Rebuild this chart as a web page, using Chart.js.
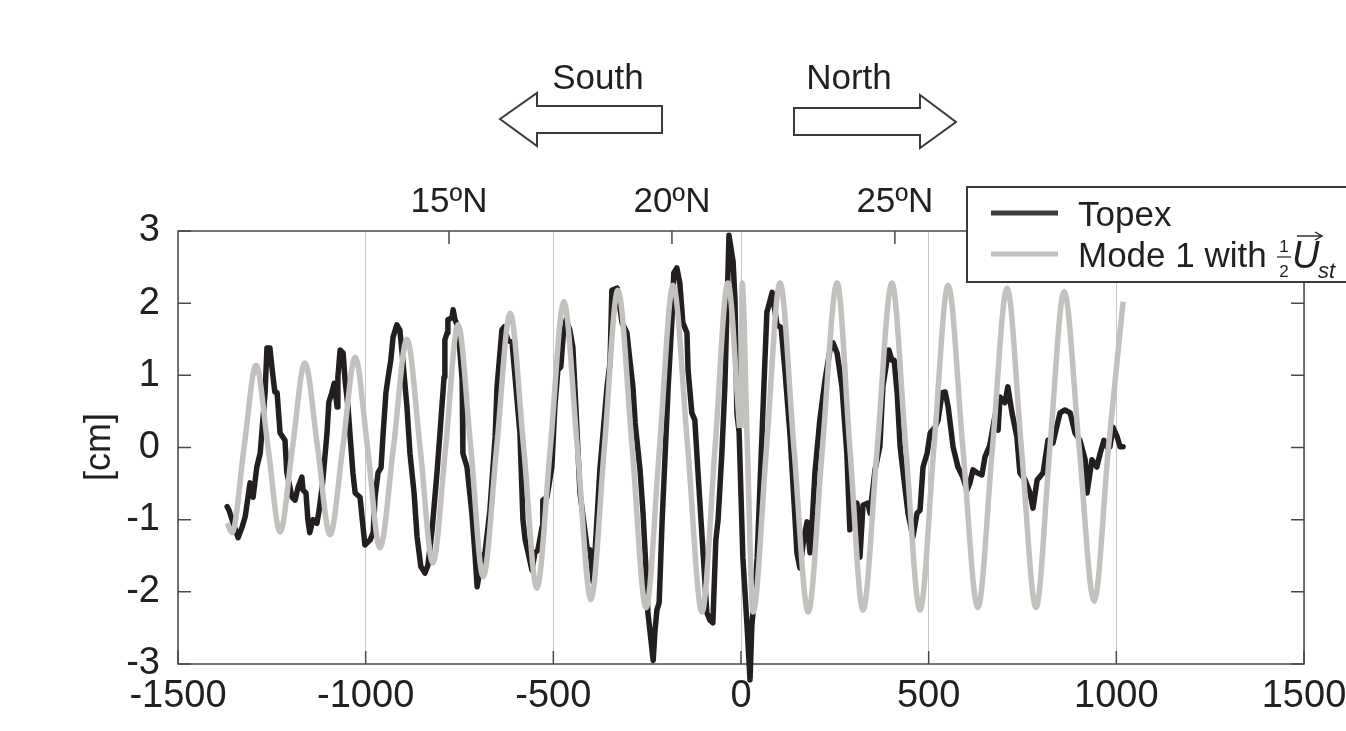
<!DOCTYPE html>
<html>
<head>
<meta charset="utf-8">
<script src="https://cdn.jsdelivr.net/npm/chart.js@4.4.1/dist/chart.umd.min.js"></script>
<style>
  html, body { margin: 0; padding: 0; background: #fff; }
</style>
</head>
<body>
<canvas id="chart" width="1346" height="731"></canvas>
<script>
// distance along track [km] and sea surface height [cm]
const topexDist = [-1369,-1364,-1356,-1340,-1329,-1321,-1308,-1300,-1290,-1281,-1268,-1263,-1255,-1250,-1242,-1236,-1228,-1215,-1210,-1196,-1188,-1180,-1170,-1167,-1159,-1154,-1149,-1140,-1130,-1124,-1116,-1111,-1103,-1098,-1090,-1084,-1076,-1074,-1068,-1060,-1055,-1047,-1042,-1034,-1028,-1015,-1007,-1002,-988,-980,-975,-967,-959,-954,-946,-940,-933,-927,-917,-909,-901,-890,-882,-871,-863,-853,-842,-834,-823,-810,-802,-797,-791,-789,-783,-781,-770,-767,-762,-754,-743,-741,-730,-717,-709,-703,-690,-682,-669,-655,-650,-637,-631,-621,-610,-602,-589,-581,-575,-567,-557,-549,-541,-530,-528,-517,-504,-496,-488,-480,-474,-466,-456,-448,-440,-429,-410,-402,-394,-389,-376,-357,-349,-344,-330,-317,-304,-296,-288,-282,-269,-261,-253,-248,-242,-234,-229,-224,-218,-210,-202,-194,-184,-179,-171,-163,-155,-144,-141,-131,-123,-115,-101,-91,-83,-75,-67,-61,-51,-43,-37,-32,-21,-16,-11,-5,5,16,24,29,37,43,64,69,72,83,96,107,117,131,144,149,157,168,176,184,189,197,210,224,237,245,256,269,282,290,309,317,325,338,344,357,370,378,389,394,402,408,416,424,432,445,458,469,477,485,496,504,517,525,536,544,552,565,578,591,602,610,618,629,642,650,663,677,685,690,703,711,722,735,743,757,770,778,789,805,818,831,850,863,877,890,903,917,922,935,948,957,967,975,983,991,1002,1010,1018];
const topexCm = [-0.82,-0.87,-1.00,-1.25,-1.10,-0.96,-0.49,-0.69,-0.27,-0.08,0.76,1.38,1.38,1.12,0.77,0.76,0.20,0.10,-0.35,-0.69,-0.73,-0.55,-0.41,-0.59,-0.63,-1.00,-1.18,-1.00,-1.05,-0.87,-0.55,-0.27,0.20,0.63,0.76,0.89,0.56,0.98,1.35,1.31,0.94,0.56,0.20,-0.35,-0.63,-0.69,-1.10,-1.35,-1.28,-1.18,-0.69,-0.35,-0.28,0.15,0.76,0.98,1.21,1.53,1.70,1.63,1.21,0.56,-0.08,-0.63,-1.24,-1.65,-1.74,-1.63,-1.14,-0.35,0.20,0.56,0.98,1.49,1.59,1.77,1.80,1.91,1.77,1.67,0.94,-0.08,-0.27,-0.91,-1.46,-1.93,-1.52,-1.46,-0.87,0.15,0.84,1.63,1.67,1.49,1.45,0.98,0.20,-1.00,-1.28,-1.46,-1.70,-1.46,-1.42,-1.10,-0.73,-0.69,-0.27,0.56,1.07,1.12,1.53,1.77,1.63,1.39,0.56,-0.63,-1.39,-1.42,-1.86,-1.46,-0.31,0.84,1.17,2.18,2.21,1.73,1.59,1.21,0.84,0.34,-0.31,-0.91,-1.70,-2.29,-2.57,-2.95,-2.53,-2.25,-2.15,-1.00,-0.08,0.84,1.77,2.42,2.49,2.28,1.73,1.59,1.07,0.48,0.38,-0.31,-1.46,-2.29,-2.39,-2.43,-1.28,-1.00,-0.08,0.84,2.00,2.94,2.57,2.04,0.48,0.21,-1.53,-2.46,-3.22,-2.46,-2.00,-1.53,1.24,1.88,1.93,2.15,1.70,1.66,1.07,0.15,-1.00,-1.46,-1.67,-1.24,-1.03,-1.46,-1.10,-0.35,0.38,0.94,1.35,1.45,1.31,0.84,-0.08,-1.14,-0.77,-1.52,-0.80,-0.77,-0.91,-0.31,0.01,0.84,1.21,1.35,1.21,1.21,0.76,0.01,-0.35,-0.91,-1.24,-0.91,-0.87,-0.27,-0.08,0.20,0.28,0.38,0.76,0.77,0.56,0.01,-0.27,-0.41,-0.59,-0.49,-0.31,-0.35,-0.38,-0.13,0.03,0.45,0.24,0.70,0.62,0.84,0.48,0.15,-0.35,-0.45,-0.63,-0.84,-0.45,-0.35,0.10,0.06,0.48,0.52,0.48,0.20,0.10,-0.17,-0.63,-0.17,-0.27,-0.08,0.10,0.01,0.01,0.28,0.15,0.01,0.01];

// Mode 1 model, southern and northern branches
const modeSouthDist = [-1369,-1356,-1324,-1292,-1260,-1228,-1195,-1162,-1128,-1095,-1061,-1028,-995,-962,-926,-890,-855,-821,-787,-754,-720,-687,-651,-615,-579,-544,-508,-472,-436,-400,-364,-328,-290,-253,-217,-181,-142,-104,-69,-35,-4];
const modeSouthCm = [-1.05,-1.18,0,1.14,0,-1.17,0,1.17,0,-1.21,0,1.25,0,-1.39,0,1.50,0,-1.60,0,1.70,0,-1.79,0,1.86,0,-1.95,0,2.02,0,-2.11,0,2.18,0,-2.22,0,2.25,0,-2.28,0,2.28,0.27];
const modeNorthDist = [0,3,17,32,68,104,141,179,217,256,290,325,363,402,439,477,514,552,591,631,670,709,747,786,823,861,901,941,979,1018];
const modeNorthCm = [0.27,2.28,0,-2.28,0,2.28,0,-2.28,0,2.28,0,-2.25,0,2.28,0,-2.25,0,2.25,0,-2.22,0,2.21,0,-2.22,0,2.16,0,-2.13,0,2.02];

const latTickDist = [-778, -184, 410];
const latLabels = ['15ºN', '20ºN', '25ºN'];

const FONT = "'Liberation Sans', Arial, Helvetica, sans-serif";
const TEXT = '#231f20';

const toPoints = (xs, ys) => xs.map((x, i) => ({ x: x, y: ys[i] }));

// keep the plot box fixed regardless of label overhang
const fixPad = s => { s.paddingLeft = 0; s.paddingRight = 0; s.paddingTop = 0; s.paddingBottom = 0; };

const decorations = {
    id: 'decorations',
    beforeDatasetsDraw(chart) {
        const { ctx, chartArea: a, scales } = chart;
        const len = 13;
        ctx.save();
        ctx.strokeStyle = '#4a4a4a';
        ctx.lineWidth = 1.5;
        ctx.strokeRect(a.left, a.top, a.right - a.left, a.bottom - a.top);
        ctx.beginPath();
        scales.y.ticks.forEach(t => {
            const py = scales.y.getPixelForValue(t.value);
            ctx.moveTo(a.left, py); ctx.lineTo(a.left + len, py);
            ctx.moveTo(a.right, py); ctx.lineTo(a.right - len, py);
        });
        scales.x.ticks.forEach(t => {
            const px = scales.x.getPixelForValue(t.value);
            ctx.moveTo(px, a.bottom); ctx.lineTo(px, a.bottom - len);
        });
        scales.xTop.ticks.forEach(t => {
            const px = scales.xTop.getPixelForValue(t.value);
            ctx.moveTo(px, a.top); ctx.lineTo(px, a.top + len);
        });
        ctx.stroke();
        ctx.restore();
    },
    afterDraw(chart) {
        const { ctx } = chart;
        ctx.save();

        // y axis title
        ctx.fillStyle = TEXT;
        ctx.font = '36px ' + FONT;
        ctx.textAlign = 'center';
        ctx.textBaseline = 'middle';
        ctx.translate(100, 447);
        ctx.rotate(-Math.PI / 2);
        ctx.fillText('[cm]', 0, 0);
        ctx.setTransform(1, 0, 0, 1, 0, 0);

        // direction arrows
        ctx.strokeStyle = '#3a3a36';
        ctx.lineWidth = 2;
        ctx.fillStyle = '#fff';
        const poly = pts => {
            ctx.beginPath();
            pts.forEach((p, i) => i ? ctx.lineTo(p[0], p[1]) : ctx.moveTo(p[0], p[1]));
            ctx.closePath();
            ctx.fill();
            ctx.stroke();
        };
        poly([[500, 119], [537, 93], [537, 106], [662, 106], [662, 133], [537, 133], [537, 146]]);
        poly([[794, 108], [920, 108], [920, 95], [956, 122], [920, 148], [920, 135], [794, 135]]);
        ctx.fillStyle = TEXT;
        ctx.font = '35px ' + FONT;
        ctx.textAlign = 'center';
        ctx.textBaseline = 'alphabetic';
        ctx.fillText('South', 598, 89);
        ctx.fillText('North', 849, 89);

        // legend
        ctx.fillStyle = '#fff';
        ctx.fillRect(967, 187, 400, 95);
        ctx.strokeStyle = '#3a3a36';
        ctx.lineWidth = 2;
        ctx.strokeRect(967, 187, 400, 95);
        ctx.lineWidth = 5;
        ctx.strokeStyle = '#3b3e36';
        ctx.beginPath(); ctx.moveTo(991, 213); ctx.lineTo(1058, 213); ctx.stroke();
        ctx.strokeStyle = '#c3c1be';
        ctx.beginPath(); ctx.moveTo(991, 254); ctx.lineTo(1058, 254); ctx.stroke();

        ctx.fillStyle = TEXT;
        ctx.textAlign = 'left';
        ctx.font = '35px ' + FONT;
        ctx.fillText(chart.data.datasets[2].label, 1078, 226);
        ctx.fillText('Mode 1 with', 1078, 267);
        // 1/2 fraction
        ctx.font = '17px ' + FONT;
        ctx.textAlign = 'center';
        ctx.fillText('1', 1284, 252);
        ctx.fillText('2', 1284, 277);
        ctx.lineWidth = 1.2;
        ctx.strokeStyle = TEXT;
        ctx.beginPath(); ctx.moveTo(1277, 257); ctx.lineTo(1291, 257); ctx.stroke();
        // vector U_st
        ctx.textAlign = 'left';
        ctx.font = 'italic 38px ' + FONT;
        ctx.fillText('U', 1292, 268);
        ctx.lineWidth = 1.4;
        ctx.beginPath(); ctx.moveTo(1297, 236); ctx.lineTo(1321, 236); ctx.stroke();
        ctx.beginPath(); ctx.moveTo(1315, 232); ctx.lineTo(1322, 236); ctx.lineTo(1315, 240); ctx.stroke();
        ctx.font = 'italic 22px ' + FONT;
        ctx.fillText('st', 1318, 278);

        ctx.restore();
    }
};

new Chart(document.getElementById('chart'), {
    type: 'line',
    data: {
        datasets: [
            { label: 'Mode 1 with 1/2 Ust', data: toPoints(modeSouthDist, modeSouthCm), borderColor: '#c3c1be', borderWidth: 5.5, cubicInterpolationMode: 'monotone', pointRadius: 0, order: 0 },
            { label: 'Mode 1 with 1/2 Ust (north)', data: toPoints(modeNorthDist, modeNorthCm), borderColor: '#c3c1be', borderWidth: 5.5, cubicInterpolationMode: 'monotone', pointRadius: 0, order: 0 },
            { label: 'Topex', data: toPoints(topexDist, topexCm), borderColor: '#231f20', borderWidth: 5.5, tension: 0, pointRadius: 0, borderJoinStyle: 'round', borderCapStyle: 'round', clip: false, order: 1 }
        ]
    },
    options: {
        responsive: false,
        animation: false,
        devicePixelRatio: 1,
        layout: { padding: { top: 0, right: 42, left: 0, bottom: 0 } },
        plugins: { legend: { display: false }, tooltip: { enabled: false } },
        scales: {
            x: {
                type: 'linear', position: 'bottom', min: -1500, max: 1500,
                afterFit: s => { s.height = 67; fixPad(s); },
                grid: { color: '#c9c9c9', lineWidth: 1, drawTicks: false },
                border: { display: false },
                ticks: { stepSize: 500, padding: 10, color: TEXT, font: { family: FONT, size: 38 }, maxRotation: 0, autoSkip: false,
                         callback: v => String(v) }
            },
            xTop: {
                type: 'linear', position: 'top', min: -1500, max: 1500,
                afterFit: s => { s.height = 231; fixPad(s); },
                afterBuildTicks: s => { s.ticks = latTickDist.map(v => ({ value: v })); },
                grid: { display: false, drawTicks: false },
                border: { display: false },
                ticks: { padding: 8, color: TEXT, font: { family: FONT, size: 35 }, maxRotation: 0, autoSkip: false,
                         callback: (v, i) => latLabels[i] }
            },
            y: {
                min: -3, max: 3,
                afterFit: s => { s.width = 178; fixPad(s); },
                grid: { display: false, drawTicks: false },
                border: { display: false },
                ticks: { stepSize: 1, padding: 18, color: TEXT, font: { family: FONT, size: 38 } }
            }
        }
    },
    plugins: [decorations]
});
</script>
</body>
</html>
